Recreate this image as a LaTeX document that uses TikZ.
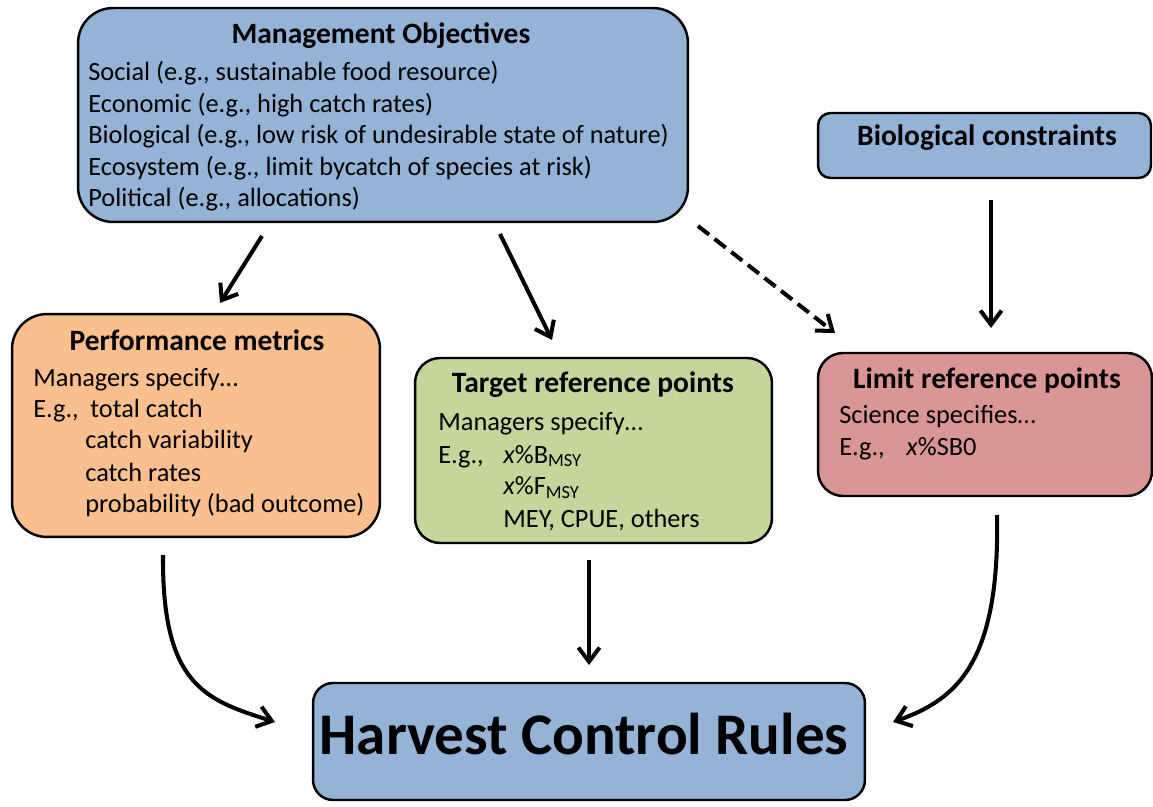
\documentclass[tikz,border=0pt]{standalone}
\usepackage{fontspec}
\setmainfont{Carlito}
\usetikzlibrary{arrows.meta}

\definecolor{objBlue}{RGB}{149,179,215}
\definecolor{perfOrange}{RGB}{250,191,143}
\definecolor{targetGreen}{RGB}{195,214,155}
\definecolor{limitRed}{RGB}{217,150,148}

\begin{document}
\begin{tikzpicture}
[x=0.02cm,y=-0.02cm,%
  boxDecorate/.style={draw,line width=1.4pt,inner sep=0pt},%
  lineDecorate/.style={-{Straight Barb[length=8pt,width=12pt]},line width=2.3pt},%
  titleDecorate/.style={anchor=base,inner sep=0pt,font=\fontsize{16.8}{20}\selectfont\bfseries},%
  textDecorate/.style={anchor=base west,inner sep=0pt,font=\fontsize{15}{18}\selectfont}]
\useasboundingbox (0,0) rectangle (1153,807);
%% boxes
\node[boxDecorate,fill=objBlue,rounded corners=0.7cm,minimum width=12.2cm,minimum height=4.28cm] (obj) at (383,115) {};
\node[boxDecorate,fill=objBlue,rounded corners=0.25cm,minimum width=6.66cm,minimum height=1.3cm] (bio) at (984.5,145.5) {};
\node[boxDecorate,fill=perfOrange,rounded corners=0.7cm,minimum width=7.36cm,minimum height=4.46cm] (perf) at (196,425.5) {};
\node[boxDecorate,fill=targetGreen,rounded corners=0.5cm,minimum width=7.14cm,minimum height=3.7cm] (target) at (593.5,450.5) {};
\node[boxDecorate,fill=limitRed,rounded corners=0.5cm,minimum width=6.68cm,minimum height=2.86cm] (limit) at (985,424.5) {};
\node[boxDecorate,fill=objBlue,rounded corners=0.4cm,minimum width=11.04cm,minimum height=2.34cm] (hcr) at (589,741.5) {};
%% titles
\node[titleDecorate] (objTitle) at (381,44) {Management Objectives};
\node[titleDecorate] (bioTitle) at (987,146) {Biological constraints};
\node[titleDecorate] (perfTitle) at (197,351) {Performance metrics};
\node[titleDecorate] (targetTitle) at (593,393) {Target reference points};
\node[titleDecorate] (limitTitle) at (987,389) {Limit reference points};
\node[anchor=base,inner sep=0pt,font=\fontsize{33.6}{38}\selectfont\bfseries] (hcrTitle) at (584,754) {Harvest Control Rules};
%% box texts
\foreach \txt [count=\i] in {{Social (e.g., sustainable food resource)},
  {Economic (e.g., high catch rates)},
  {Biological (e.g., low risk of undesirable state of nature)},
  {Ecosystem (e.g., limit bycatch of species at risk)},
  {Political (e.g., allocations)}}
{
  \node[textDecorate] (objLine\i) at (88,{81+31.5*(\i-1)}) {\txt};
}
\node[textDecorate] (perfLine1) at (33,387) {Managers specify\ldots};
\node[textDecorate] (perfLine2) at (33,418) {E.g.,};
\foreach \x/\y/\txt [count=\i] in {90/418/total catch, 85/449/catch variability,
  85/481/catch rates, 85/512/{probability (bad outcome)}}
{
  \node[textDecorate] (perfItem\i) at (\x,\y) {\txt};
}
\node[textDecorate] (targetLine1) at (438,431) {Managers specify\ldots};
\node[textDecorate] (targetLine2) at (438,463) {E.g.,};
\node[textDecorate] (targetItem1) at (503,463) {\textit{x}\%B\textsubscript{MSY}};
\node[textDecorate] (targetItem2) at (503,495) {\textit{x}\%F\textsubscript{MSY}};
\node[textDecorate] (targetItem3) at (503,527) {MEY, CPUE, others};
\node[textDecorate] (limitLine1) at (839,423) {Science specifies\ldots};
\node[textDecorate] (limitLine2) at (839,456) {E.g.,};
\node[textDecorate] (limitItem1) at (906,456) {\textit{x}\%SB0};
%% arrow ends
\coordinate (objA) at (262,236);  \coordinate (perfA) at (220,303);
\coordinate (objB) at (500,234);  \coordinate (targetA) at (552,340);
\coordinate (objC) at (698,226);  \coordinate (limitA) at (835,333);
\coordinate (bioA) at (991,200);  \coordinate (limitB) at (991,328);
\coordinate (targetB) at (589,560); \coordinate (hcrA) at (589,665);
\coordinate (perfB) at (163,555); \coordinate (hcrB) at (275,722);
\coordinate (limitC) at (997,515); \coordinate (hcrC) at (893,722);
%% connect boxes
\draw[lineDecorate] (objA) -- (perfA);
\draw[lineDecorate] (objB) -- (targetA);
\draw[lineDecorate,dash pattern=on 8pt off 4pt] (objC) -- (limitA);
\draw[lineDecorate] (bioA) -- (limitB);
\draw[lineDecorate] (targetB) -- (hcrA);
\draw[lineDecorate] (perfB) .. controls (162,685) and (205,700) .. (hcrB);
\draw[lineDecorate] (limitC) .. controls (1000,665) and (955,700) .. (hcrC);
\end{tikzpicture}
\end{document}
